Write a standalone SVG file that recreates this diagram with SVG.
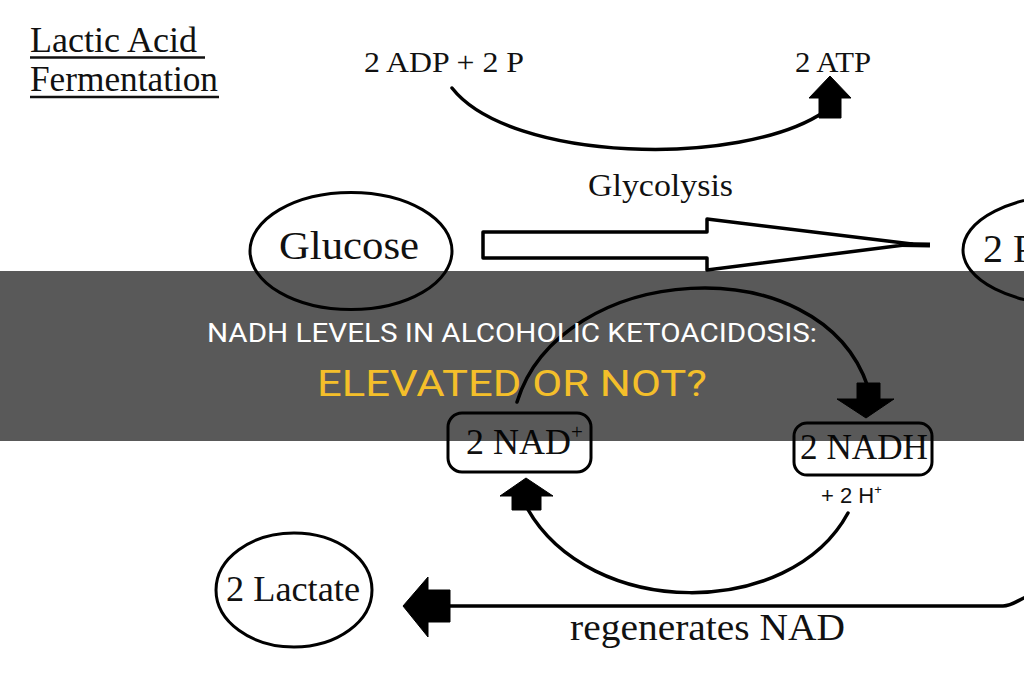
<svg xmlns="http://www.w3.org/2000/svg" width="1024" height="680" viewBox="0 0 1024 680">
<style>
.s{font-family:"Liberation Serif","Times New Roman",serif;fill:#111}
.ln{fill:none;stroke:#000;stroke-width:3.5;stroke-linecap:round}
.node{fill:#fff;stroke:#000;stroke-width:3}
.blk{fill:#000;stroke:#000;stroke-width:1}
.t{font-family:Roboto,"Liberation Sans",sans-serif;text-anchor:start}
</style>
<rect width="1024" height="680" fill="#fff"/>
<g id="title">
<text class="s" x="30" y="52" font-size="35" textLength="167" lengthAdjust="spacingAndGlyphs">Lactic Acid</text>
<line x1="30" y1="57.5" x2="205" y2="57.5" stroke="#111" stroke-width="2.5"/>
<text class="s" x="30" y="91" font-size="35" textLength="188" lengthAdjust="spacingAndGlyphs">Fermentation</text>
<line x1="30" y1="97" x2="219" y2="97" stroke="#111" stroke-width="2.5"/>
</g>
<g id="adp"><text class="s" x="364" y="72" font-size="29" textLength="160" lengthAdjust="spacingAndGlyphs">2 ADP + 2 P</text></g>
<g id="atp"><text class="s" x="795" y="72" font-size="29" textLength="76" lengthAdjust="spacingAndGlyphs">2 ATP</text></g>
<g id="glycolysis-label"><text class="s" x="588" y="196" font-size="31" textLength="145" lengthAdjust="spacingAndGlyphs">Glycolysis</text></g>
<g id="glucose">
<ellipse class="node" cx="351" cy="251" rx="101" ry="58.5"/>
<text class="s" x="279" y="259" font-size="40" textLength="140" lengthAdjust="spacingAndGlyphs">Glucose</text>
</g>
<g id="pyruvate">
<ellipse class="node" cx="1072" cy="250" rx="109" ry="55"/>
<text class="s" x="983" y="262" font-size="40">2 P</text>
</g>
<g id="nad">
<rect class="node" x="448" y="413" width="143" height="59" rx="14"/>
<text class="s" x="466" y="454" font-size="36">2 NAD<tspan font-size="21" dy="-15">+</tspan></text>
</g>
<g id="nadh">
<rect class="node" x="794" y="423" width="138" height="52" rx="13"/>
<text class="s" x="800" y="459" font-size="35" textLength="128" lengthAdjust="spacingAndGlyphs">2 NADH</text>
<text x="821" y="503" font-family="'Liberation Sans',Arial,sans-serif" font-size="22" fill="#111">+ 2 H<tspan font-size="13" dy="-9">+</tspan></text>
</g>
<g id="lactate">
<ellipse class="node" cx="294" cy="590" rx="78" ry="57"/>
<text class="s" x="226" y="601" font-size="35" textLength="134" lengthAdjust="spacingAndGlyphs">2 Lactate</text>
</g>
<g id="regen-label"><text class="s" x="570" y="640" font-size="38" textLength="275" lengthAdjust="spacingAndGlyphs">regenerates NAD</text></g>
<g id="connectors">
<path class="ln" d="M 452 88 C 510 162, 740 168, 824 112"/>
<polygon class="blk" points="830,76 851,98 841,98 841,118 819,118 819,98 809,98"/>
<polygon points="483,232 707,232 707,219 912,244 707,270 707,258 483,258" fill="#fff" stroke="#000" stroke-width="3.5" stroke-linejoin="round"/>
<line x1="900" y1="244.5" x2="930" y2="245" stroke="#000" stroke-width="5"/>
<path class="ln" d="M 517 402 C 560 262, 820 244, 868 387"/>
<polygon class="blk" points="857,383 880,383 880,399 894,399 866,418 837,399 857,399"/>
<path class="ln" d="M 848 513 C 790 620, 590 620, 527 508"/>
<polygon class="blk" points="526,478 553,496 541,496 541,510 512,510 512,496 500,496"/>
<path class="ln" d="M 448 606 L 1003 606 C 1012 606, 1018 600, 1026 597"/>
<polygon class="blk" points="403,606 428,577 428,590 450,590 450,622 428,622 428,637"/>
</g>
<rect id="band" x="0" y="271" width="1024" height="170" fill="#000" fill-opacity="0.65"/>
<g id="headline">
<text class="t" x="207" y="342" font-size="26" fill="#fff" textLength="610" lengthAdjust="spacingAndGlyphs">NADH LEVELS IN ALCOHOLIC KETOACIDOSIS:</text>
<text class="t" x="317" y="396" font-size="37" fill="#F4BF2A" textLength="390" lengthAdjust="spacingAndGlyphs">ELEVATED OR NOT?</text>
</g>
</svg>
